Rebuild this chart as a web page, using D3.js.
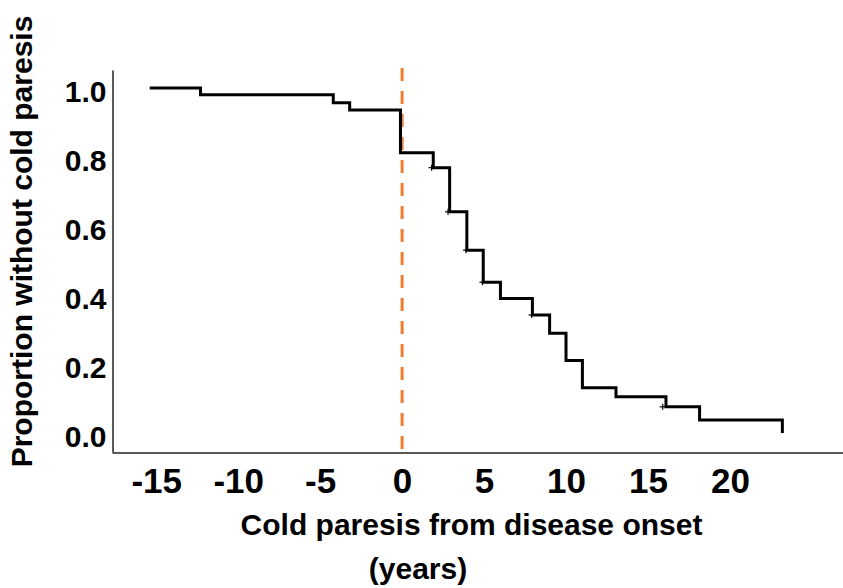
<!DOCTYPE html>
<html>
<head>
<meta charset="utf-8">
<script src="https://cdn.jsdelivr.net/npm/d3@7"></script>
<style>
  body { margin: 0; background: #fff; }
  text { font-family: "Liberation Sans", Arial, sans-serif; font-weight: bold; fill: #000; }
</style>
</head>
<body>
<svg id="chart" width="843" height="588"></svg>
<script>
// step times (years from onset) and survival level starting at each time
const stepTimes = [-15.4, -12.3, -4.2, -3.2, -0.1, 1.9, 2.9, 3.95, 4.95, 6.0, 7.95, 9.0, 10.0, 11.0, 13.05, 16.1, 18.15, 23.2];
const stepSurv  = [1.0, 0.980, 0.957, 0.936, 0.812, 0.769, 0.641, 0.530, 0.437, 0.390, 0.342, 0.289, 0.210, 0.131, 0.105, 0.076, 0.038, 0.0];

// censored observations
const censorTimes = [1.8, 2.8, 3.9, 4.9, 7.9, 15.9];
const censorSurv  = [0.769, 0.641, 0.530, 0.437, 0.342, 0.076];

const xTicks = [-15, -10, -5, 0, 5, 10, 15, 20];
const yTicks = [0, 0.2, 0.4, 0.6, 0.8, 1.0];

const svg = d3.select('#chart');

const x = d3.scaleLinear().domain([-17.7, 26.9]).range([112, 843]);
const y = d3.scaleLinear().domain([-0.055, 1.052]).range([452, 70]);

// axes, no tick marks
const xAxis = svg.append('g')
  .attr('transform', 'translate(0,452.5)')
  .call(d3.axisBottom(x).tickValues(xTicks).tickSize(0).tickPadding(16)
    .tickFormat(d => d < 0 ? '-' + Math.abs(d) : d));
xAxis.select('.domain').attr('stroke', '#222').attr('stroke-width', 1.5);
xAxis.selectAll('text').attr('font-size', 35).attr('dy', '0.71em');

const yAxis = svg.append('g')
  .attr('transform', 'translate(112.5,0)')
  .call(d3.axisLeft(y).tickValues(yTicks).tickSize(0).tickPadding(6)
    .tickFormat(d3.format('.1f')));
yAxis.select('.domain').attr('stroke', '#222').attr('stroke-width', 1.5);
yAxis.selectAll('text').attr('font-size', 30).attr('dy', '0.46em');

// onset reference line
svg.append('line')
  .attr('x1', x(0)).attr('x2', x(0))
  .attr('y1', 68).attr('y2', 452)
  .attr('stroke', '#ED7D31')
  .attr('stroke-width', 3)
  .attr('stroke-dasharray', '13 10');

// survival curve
const steps = stepTimes.map((t, i) => ({ t: t, s: stepSurv[i] }));
const line = d3.line()
  .x(d => x(d.t))
  .y(d => y(d.s))
  .curve(d3.curveStepAfter);

svg.append('path')
  .datum(steps)
  .attr('d', line)
  .attr('fill', 'none')
  .attr('stroke', '#000')
  .attr('stroke-width', 3);

// censor marks
const marks = svg.append('g').attr('stroke', '#000').attr('stroke-width', 1.2);
censorTimes.forEach((t, i) => {
  const cx = x(t), cy = y(censorSurv[i]);
  marks.append('line').attr('x1', cx - 3).attr('x2', cx + 3).attr('y1', cy).attr('y2', cy);
  marks.append('line').attr('x1', cx).attr('x2', cx).attr('y1', cy - 3).attr('y2', cy + 3);
});

// axis titles
svg.append('text')
  .attr('x', 471.5).attr('y', 535)
  .attr('text-anchor', 'middle')
  .attr('font-size', 30)
  .text('Cold paresis from disease onset');
svg.append('text')
  .attr('x', 418).attr('y', 579)
  .attr('text-anchor', 'middle')
  .attr('font-size', 30)
  .text('(years)');

svg.append('text')
  .attr('transform', 'translate(32,241.5) rotate(-90)')
  .attr('text-anchor', 'middle')
  .attr('font-size', 30)
  .text('Proportion without cold paresis');
</script>
</body>
</html>
